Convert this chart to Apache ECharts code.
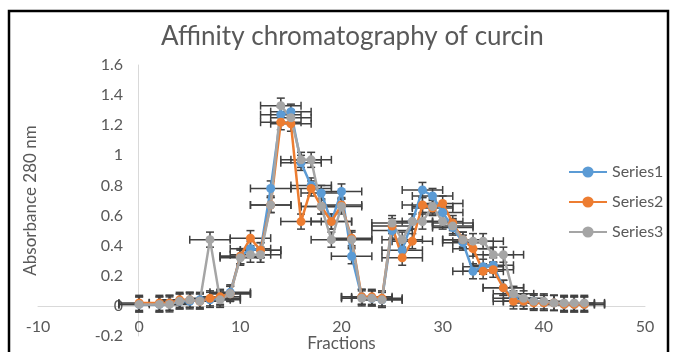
<!DOCTYPE html>
<html>
<head>
<meta charset="utf-8">
<script src="https://cdn.jsdelivr.net/npm/echarts@6/dist/echarts.min.js"></script>
<style>
  html, body { margin: 0; padding: 0; background: #fff; }
  #chart { width: 673px; height: 352px; }
</style>
</head>
<body>
<div id="chart"></div>
<script>
// fraction numbers on the x axis
var fractions = [0, 2, 3, 4, 5, 6, 7, 8, 9, 10, 11, 12, 13, 14, 15, 16, 17, 18, 19, 20, 21, 22,
  23, 24, 25, 26, 27, 28, 29, 30, 31, 32, 33, 34, 35, 36, 37, 38, 39, 40, 41, 42, 43, 44]
// absorbance at 280 nm
var series1 = [0.01, 0.01, 0.02, 0.03, 0.03, 0.04, 0.04, 0.05, 0.09, 0.33, 0.38, 0.37, 0.78, 1.27,
  1.29, 0.95, 0.80, 0.75, 0.56, 0.76, 0.33, 0.06, 0.05, 0.04, 0.50, 0.37, 0.56, 0.77, 0.73, 0.62,
  0.52, 0.42, 0.23, 0.26, 0.27, 0.12, 0.05, 0.03, 0.03, 0.02, 0.02, 0.01, 0.01, 0.01]
var series2 = [0.02, 0.02, 0.02, 0.04, 0.04, 0.03, 0.05, 0.06, 0.08, 0.33, 0.45, 0.37, 0.67, 1.22,
  1.21, 0.56, 0.78, 0.66, 0.56, 0.67, 0.45, 0.06, 0.06, 0.05, 0.53, 0.32, 0.43, 0.67, 0.65, 0.68,
  0.55, 0.44, 0.38, 0.23, 0.24, 0.12, 0.03, 0.03, 0.02, 0.02, 0.02, 0.01, 0.01, 0.01]
var series3 = [0.01, 0.01, 0.01, 0.03, 0.04, 0.03, 0.44, 0.04, 0.08, 0.32, 0.34, 0.34, 0.67, 1.33,
  1.25, 0.97, 0.97, 0.66, 0.44, 0.66, 0.44, 0.05, 0.05, 0.04, 0.55, 0.44, 0.56, 0.56, 0.66, 0.56,
  0.53, 0.44, 0.43, 0.43, 0.34, 0.34, 0.08, 0.05, 0.03, 0.03, 0.02, 0.02, 0.02, 0.02]
var seriesNames = ['Series1', 'Series2', 'Series3']
var seriesColors = ['#5B9BD5', '#ED7D31', '#A5A5A5']
// error bar sizes (fixed value, both directions)
var xError = 2
var yError = 0.05

var textColor = '#595959'
var font = 'Lato, "Liberation Sans", sans-serif'

function pairs (ys) {
  return fractions.map(function (x, i) { return [x, ys[i]] })
}

function renderErrorBar (params, api) {
  var x = api.value(0)
  var y = api.value(1)
  var c = api.coord([x, y])
  var l = api.coord([x - xError, y])
  var r = api.coord([x + xError, y])
  var t = api.coord([x, y + yError])
  var b = api.coord([x, y - yError])
  var cap = 4
  var style = { stroke: '#404040', lineWidth: 1.5 }
  function seg (x1, y1, x2, y2) {
    return { type: 'line', shape: { x1: x1, y1: y1, x2: x2, y2: y2 }, style: style }
  }
  return {
    type: 'group',
    children: [
      seg(l[0], c[1], r[0], c[1]),
      seg(l[0], c[1] - cap, l[0], c[1] + cap),
      seg(r[0], c[1] - cap, r[0], c[1] + cap),
      seg(c[0], t[1], c[0], b[1]),
      seg(c[0] - cap, t[1], c[0] + cap, t[1]),
      seg(c[0] - cap, b[1], c[0] + cap, b[1])
    ]
  }
}

var allData = [series1, series2, series3]
var series = []
allData.forEach(function (ys, i) {
  series.push({
    name: seriesNames[i],
    type: 'line',
    data: pairs(ys),
    symbol: 'circle',
    symbolSize: 9,
    lineStyle: { width: 2.5, color: seriesColors[i] },
    itemStyle: { color: seriesColors[i] },
    animation: false
  })
  series.push({
    name: seriesNames[i] + ' error',
    type: 'custom',
    data: pairs(ys),
    renderItem: renderErrorBar,
    silent: true,
    animation: false
  })
})

var myChart = echarts.init(document.getElementById('chart'))
var option = {
  backgroundColor: '#fff',
  textStyle: { fontFamily: font },
  title: {
    text: 'Affinity chromatography of curcin',
    left: 156,
    top: 19,
    textStyle: { fontFamily: font, fontSize: 26, fontWeight: 'normal', color: textColor }
  },
  legend: {
    data: seriesNames,
    orient: 'vertical',
    left: 563,
    top: 159,
    itemWidth: 38,
    itemHeight: 14,
    itemGap: 14,
    textStyle: { fontFamily: font, fontSize: 16, color: textColor }
  },
  grid: { left: 38, right: 28, top: 65, bottom: 16, containLabel: false, outerBoundsMode: 'none' },
  xAxis: {
    type: 'value',
    min: -10,
    max: 50,
    interval: 10,
    position: 'bottom',
    offset: -30,
    name: 'Fractions',
    nameLocation: 'middle',
    nameGap: 29,
    nameMoveOverlap: false,
    nameTextStyle: { fontFamily: font, fontSize: 17, color: textColor },
    axisLine: { show: true, onZero: false, lineStyle: { color: '#d9d9d9', width: 1 } },
    axisTick: { show: false },
    splitLine: { show: false },
    axisLabel: { fontFamily: font, fontSize: 16, color: textColor, margin: 13 }
  },
  yAxis: {
    type: 'value',
    min: -0.2,
    max: 1.6,
    interval: 0.2,
    position: 'left',
    offset: -100,
    name: 'Absorbance 280 nm',
    nameLocation: 'middle',
    nameGap: 99,
    nameMoveOverlap: false,
    nameTextStyle: { fontFamily: font, fontSize: 17, color: textColor },
    axisLine: { show: true, onZero: false, lineStyle: { color: '#d9d9d9', width: 1 } },
    axisTick: { show: false },
    splitLine: { show: false },
    axisLabel: {
      fontFamily: font, fontSize: 16, color: textColor, margin: 15,
      formatter: function (v) { return String(Math.round(v * 10) / 10) }
    }
  },
  graphic: [{
    type: 'rect',
    shape: { x: 9, y: 11, width: 659, height: 350 },
    style: { fill: 'none', stroke: '#000', lineWidth: 2.5 },
    silent: true,
    z: 100
  }],
  series: series
}
myChart.setOption(option)
</script>
</body>
</html>
